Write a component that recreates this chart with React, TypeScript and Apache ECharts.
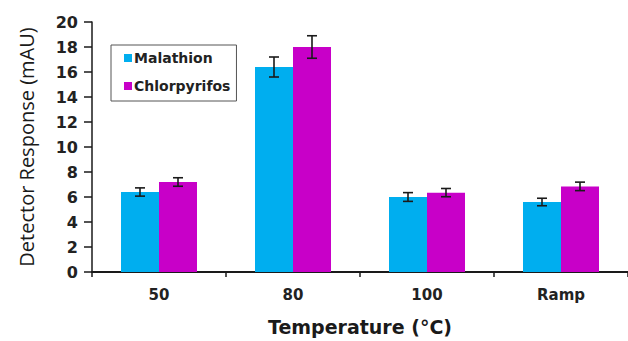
import React, { useEffect, useRef } from "react";
import * as echarts from "echarts";

const categories = ["50", "80", "100", "Ramp"];
const malathion = [6.4, 16.4, 6.0, 5.6];
const malathionErr = [0.33, 0.8, 0.35, 0.3];
const chlorpyrifos = [7.2, 18.0, 6.35, 6.85];
const chlorpyrifosErr = [0.34, 0.9, 0.33, 0.34];
const yTicks = { min: 0, max: 20, interval: 2 };

const BAR_W = 38;
const BOLD_FONT = "'DejaVu Sans', sans-serif";
const FONT = "'Open Sans', 'DejaVu Sans', sans-serif";

function errorSeries(name: string, values: number[], errs: number[], offset: number) {
  return {
    type: "custom",
    name: name + " error",
    z: 10,
    silent: true,
    data: values.map((v, i) => [i, v, errs[i]]),
    renderItem: (params: any, api: any) => {
      const i = api.value(0);
      const v = api.value(1);
      const e = api.value(2);
      const top = api.coord([i, v + e]);
      const bot = api.coord([i, v - e]);
      const x = top[0] + offset;
      const cap = 5;
      const style = { stroke: "#1a1a1a", lineWidth: 1.6 };
      return {
        type: "group",
        children: [
          { type: "line", shape: { x1: x, y1: top[1], x2: x, y2: bot[1] }, style },
          { type: "line", shape: { x1: x - cap, y1: top[1], x2: x + cap, y2: top[1] }, style },
          { type: "line", shape: { x1: x - cap, y1: bot[1], x2: x + cap, y2: bot[1] }, style },
        ],
      };
    },
  };
}

export default function App() {
  const ref = useRef<HTMLDivElement>(null);
  useEffect(() => {
    if (!ref.current) return;
    const chart = echarts.init(ref.current, null, { renderer: "svg" });
    chart.setOption({
      animation: false,
      backgroundColor: "#ffffff",
      grid: { left: 92, top: 22, width: 540, height: 255 },
      legend: {
        orient: "vertical",
        left: 111,
        top: 45,
        data: ["Malathion", "Chlorpyrifos"],
        icon: "rect",
        itemWidth: 8,
        itemHeight: 8,
        itemGap: 12,
        borderColor: "#555",
        borderWidth: 1,
        padding: [5, 6, 7, 13],
        textStyle: {
          fontFamily: BOLD_FONT,
          fontWeight: "bold",
          fontSize: 14,
          color: "#222",
          lineHeight: 16,
          padding: [0, 0, 0, -3],
        },
      },
      xAxis: {
        type: "category",
        data: categories,
        name: "Temperature (°C)",
        nameLocation: "middle",
        nameGap: 45,
        nameTextStyle: { fontFamily: BOLD_FONT, fontWeight: "bold", fontSize: 19, color: "#1a1a1a" },
        axisLine: { lineStyle: { color: "#1a1a1a", width: 2 } },
        axisTick: { show: true, length: 5, lineStyle: { color: "#1a1a1a", width: 1.5 } },
        axisLabel: { fontFamily: BOLD_FONT, fontWeight: "bold", fontSize: 15, color: "#222", margin: 15 },
      },
      yAxis: {
        type: "value",
        min: yTicks.min,
        max: yTicks.max,
        interval: yTicks.interval,
        name: "Detector Response (mAU)",
        nameLocation: "middle",
        nameGap: 56,
        nameTextStyle: { fontFamily: FONT, fontSize: 20, fontWeight: 500, color: "#1a1a1a" },
        splitLine: { show: false },
        axisLine: { show: true, lineStyle: { color: "#1a1a1a", width: 1.5 } },
        axisTick: { show: true, length: 8, lineStyle: { color: "#1a1a1a", width: 1.5 } },
        axisLabel: { fontFamily: BOLD_FONT, fontWeight: "bold", fontSize: 16, color: "#222", margin: 14 },
      },
      series: [
        {
          name: "Malathion",
          type: "bar",
          data: malathion,
          barWidth: BAR_W,
          barGap: "0%",
          itemStyle: { color: "#00AEEF" },
        },
        {
          name: "Chlorpyrifos",
          type: "bar",
          data: chlorpyrifos,
          barWidth: BAR_W,
          barGap: "0%",
          itemStyle: { color: "#C800C8" },
        },
        errorSeries("Malathion", malathion, malathionErr, -BAR_W / 2),
        errorSeries("Chlorpyrifos", chlorpyrifos, chlorpyrifosErr, BAR_W / 2),
      ],
    });
    return () => chart.dispose();
  }, []);
  return <div ref={ref} style={{ width: 628, height: 341, position: "absolute", left: 0, top: 0 }} />;
}
